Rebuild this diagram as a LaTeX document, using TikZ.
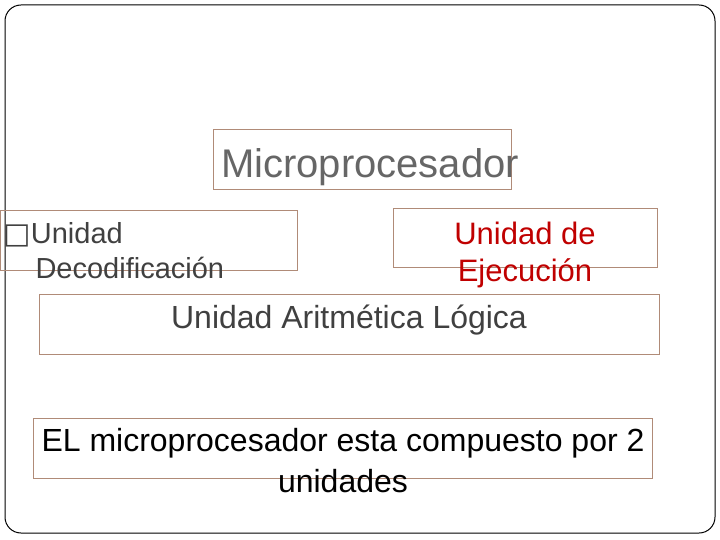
\documentclass[tikz,border=0pt]{standalone}
\usepackage{fontspec}
\setmainfont{Liberation Sans}
\newfontfamily\symfont{DejaVu Sans}
\usetikzlibrary{positioning}
\definecolor{boxline}{HTML}{B08B78}
\definecolor{darktext}{HTML}{404040}
\definecolor{redtext}{HTML}{C00000}
\tikzset{
x=1pt, y=-1pt, % one unit is one pixel of the page
box/.style={draw=boxline, line width=0.8pt, inner sep=0pt}, % sets the look of every frame
label text/.style={font=\fontsize{32}{38}\selectfont, align=center}, % sets the text of the frames
}
\begin{document}
\begin{tikzpicture}
      \useasboundingbox (0,0) rectangle (720,540);
      \draw[rounded corners=16, line width=1pt] (5,5) rectangle (715,533);

      \node[box, minimum width=298, minimum height=60] (micro) at (362,159) {};
      \node[box, minimum width=297, minimum height=60] (deco) at (148.5,240) {};
      \node[box, minimum width=264, minimum height=59] (ejec) at (525,237.5) {};
      \node[box, minimum width=620, minimum height=60] (alu) at (349,324) {};
      \node[box, minimum width=619, minimum height=60] (note) at (342.5,448) {};

      \node[label text, text=gray!80!black, font=\fontsize{40}{44}\selectfont] (microtext) at (370,167) {Microprocesador};
      \node[label text, text=darktext, align=left, anchor=north west, font=\fontsize{29}{35}\selectfont] (decotext) at (0,219)
        {{\symfont □}Unidad\\\hspace*{32pt}Decodificación};
      \node[label text, text=redtext, anchor=north, font=\fontsize{31}{37}\selectfont] (ejectext) at (525,219) {Unidad de\\Ejecución};
      \node[label text, text=darktext] (alutext) at (349,320) {Unidad Aritmética Lógica};
      \node[label text, text=black, anchor=north, font=\fontsize{32}{41}\selectfont] (notetext) at (343,425) {EL microprocesador esta compuesto por 2\\unidades};
    \end{tikzpicture}
\end{document}
